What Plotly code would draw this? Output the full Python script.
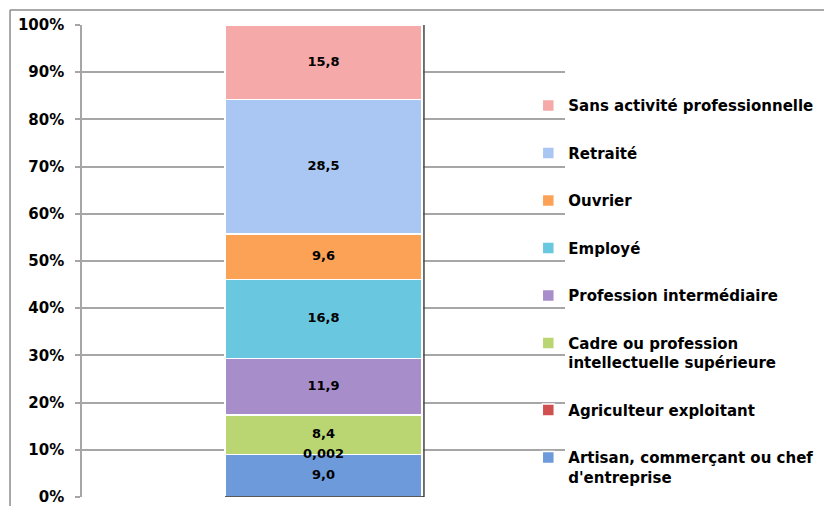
import plotly.graph_objects as go

# categories from bottom of the stack to the top
categories = [
    "Artisan, commerçant ou chef<br>d'entreprise",
    "Agriculteur exploitant",
    "Cadre ou profession<br>intellectuelle supérieure",
    "Profession intermédiaire",
    "Employé",
    "Ouvrier",
    "Retraité",
    "Sans activité professionnelle",
]
values = [9.0, 0.002, 8.4, 11.9, 16.8, 9.6, 28.5, 15.8]
colors = ["#6c9adb", "#d05050", "#b9d673", "#a88dcb",
          "#69c7e0", "#fba257", "#aac6f2", "#f5a9a9"]
tick_vals = list(range(0, 101, 10))
tick_text = [f"{t}%" for t in tick_vals]

FONT = "DejaVu Sans"
n = len(values)
bar_w = 0.408

fig = go.Figure()
for i, (name, v, c) in enumerate(zip(categories, values, colors)):
    fig.add_trace(go.Bar(
        x=[0], y=[v], name=name, legendgroup=name, legendrank=n - i,
        marker=dict(color=c, line=dict(color="white", width=1.5)),
        width=bar_w,
    ))

# value labels on top of every segment (middle of each segment)
mids, labels, run = [], [], 0.0
for v in values:
    mids.append(run + v / 2)
    labels.append(str(v).replace(".", ","))
    run += v
fig.add_trace(go.Scatter(
    x=[0] * n, y=mids, mode="text", text=labels, showlegend=False,
    textfont=dict(family=FONT, size=13, color="black", weight="bold"),
    hoverinfo="skip",
))

# page body has an 8px margin, so the figure is 8px smaller each way
fig.update_layout(
    width=824, height=498,
    barmode="stack",
    plot_bgcolor="white", paper_bgcolor="white",
    margin=dict(l=74, r=267, t=17, b=9, autoexpand=False),
    font=dict(family=FONT, color="black"),
    legend=dict(
        x=0.924, y=0.864, xanchor="left", yanchor="top",
        traceorder="grouped", tracegroupgap=25,
        valign="top",
        font=dict(family=FONT, size=15, color="black", weight="bold"),
        bgcolor="rgba(0,0,0,0)",
    ),
    showlegend=True,
)

fig.update_xaxes(range=[-0.5, 0.5], showticklabels=False, showgrid=False,
                 zeroline=False, showline=False, ticks="")
fig.update_yaxes(
    range=[0, 100], tickvals=tick_vals, ticktext=tick_text,
    showgrid=True, gridcolor="#a6a6a6", gridwidth=1.5,
    zeroline=False, showline=True, linecolor="#a6a6a6", linewidth=1.5,
    ticks="outside", ticklen=5, tickcolor="#a6a6a6", tickwidth=1.5,
    ticklabelstandoff=8, ticklabeloverflow="allow",
    tickfont=dict(family=FONT, size=15, color="black", weight="bold"),
)

# bar shadow: dark edge on the right and underneath
edge = bar_w / 2 + 0.004
fig.add_shape(type="line", xref="x", yref="y", x0=edge, x1=edge, y0=0, y1=run,
              line=dict(color="#444444", width=1.5))
fig.add_shape(type="line", xref="x", yref="y", x0=-bar_w / 2, x1=edge,
              y0=0, y1=0, line=dict(color="#222222", width=1.5))

# outer chart-area border (top and left only visible)
fig.add_shape(type="line", xref="paper", yref="paper",
              x0=-0.149, x1=1.6, y0=1.032, y1=1.032,
              line=dict(color="#8c8c8c", width=1.5))
fig.add_shape(type="line", xref="paper", yref="paper",
              x0=-0.149, x1=-0.149, y0=1.032, y1=-0.2,
              line=dict(color="#8c8c8c", width=1.5))

fig.write_html("out.html")
